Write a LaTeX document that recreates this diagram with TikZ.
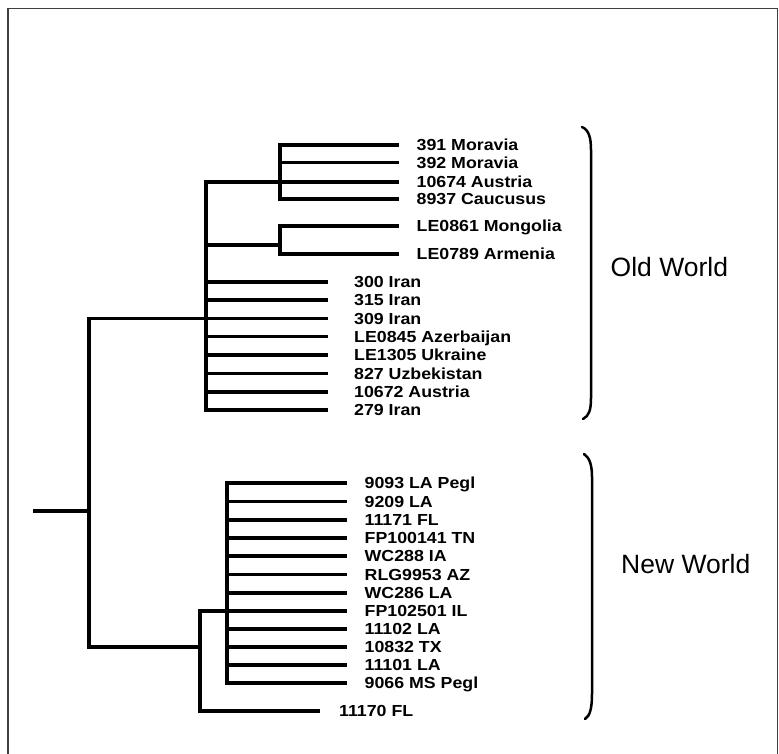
\documentclass[tikz,border=0pt]{standalone}
\usepackage{fontspec}
\setmainfont{Liberation Sans}
\newfontfamily\leaffont[FakeStretch=1.11]{Liberation Sans}
\tikzset{
  branch/.style={line width=3.2pt, line cap=rect},
  leaf/.style={anchor=west, font=\leaffont\bfseries\fontsize{16}{18}\selectfont,
               inner xsep=19.5pt, inner ysep=0pt, text height=11.5pt, text depth=0pt},
  ileaf/.style={leaf, inner xsep=28pt},
  group/.style={anchor=base west, font=\fontsize{26.5}{30}\selectfont, inner sep=0pt},
  brace/.style={line width=2.5pt, line cap=round},
  frame/.style={draw=black!75, line width=1.3pt},
}

\begin{document}
\begin{tikzpicture}[x=1pt, y=-1pt]
    \useasboundingbox (0,0) rectangle (779,754);
    \draw[frame] (8,8.5) rectangle (777.3,758);

    % old world leaves
    \node[leaf] (o1) at (397,145) {391 Moravia};
    \node[leaf] (o2) at (397,162.5) {392 Moravia};
    \node[leaf] (o3) at (397,182) {10674 Austria};
    \node[leaf] (o4) at (397,199) {8937 Caucusus};
    \node[leaf] (o5) at (397,226) {LE0861 Mongolia};
    \node[leaf] (o6) at (397,254) {LE0789 Armenia};
    \node[ileaf] (o7) at (326,282) {300 Iran};
    \node[ileaf] (o8) at (326,300) {315 Iran};
    \node[ileaf] (o9) at (326,318.5) {309 Iran};
    \node[ileaf] (o10) at (326,336.7) {LE0845 Azerbaijan};
    \node[ileaf] (o11) at (326,355) {LE1305 Ukraine};
    \node[ileaf] (o12) at (326,373.5) {827 Uzbekistan};
    \node[ileaf] (o13) at (326,392) {10672 Austria};
    \node[ileaf] (o14) at (326,410) {279 Iran};

    % new world leaves
    \node[leaf] (n1) at (345,483) {9093 LA Pegl};
    \node[leaf] (n2) at (345,501.5) {9209 LA};
    \node[leaf] (n3) at (345,520) {11171 FL};
    \node[leaf] (n4) at (345,538) {FP100141 TN};
    \node[leaf] (n5) at (345,556) {WC288 IA};
    \node[leaf] (n6) at (345,574.5) {RLG9953 AZ};
    \node[leaf] (n7) at (345,593) {WC286 LA};
    \node[leaf] (n8) at (345,611) {FP102501 IL};
    \node[leaf] (n9) at (345,629) {11102 LA};
    \node[leaf] (n10) at (345,647) {10832 TX};
    \node[leaf] (n11) at (345,665) {11101 LA};
    \node[leaf] (n12) at (345,683) {9066 MS Pegl};
    \node[leaf, inner xsep=21pt] (n13) at (318,711) {11170 FL};

    % joints
    \coordinate (root) at (35,511);
    \coordinate (rv) at (89,511);
    \coordinate (mv) at (280,182);
    \coordinate (gv) at (280,245);
    \coordinate (ov) at (206,182);
    \coordinate (nv) at (227,483);
    \coordinate (fv) at (200,611);

    % root
    \draw[branch] (root) -- (rv);
    \draw[branch] (o9 -| rv) -- (n10 -| rv);
    \draw[branch] (o9 -| rv) -- (o9);
    \draw[branch] (n10 -| rv) -- (n10 -| fv);

    % old world
    \draw[branch] (ov) -- (o14 -| ov);
    \draw[branch] (ov) -- (o3);
    \draw[branch] (o1 -| mv) -- (o4 -| mv);
    \draw[branch] (o1 -| mv) -- (o1);
    \draw[branch] (o2 -| mv) -- (o2);
    \draw[branch] (o4 -| mv) -- (o4);
    \draw[branch] (ov |- gv) -- (gv);
    \draw[branch] (o5 -| gv) -- (o6 -| gv);
    \draw[branch] (o5 -| gv) -- (o5);
    \draw[branch] (o6 -| gv) -- (o6);
    \draw[branch] (o7 -| ov) -- (o7);
    \draw[branch] (o8 -| ov) -- (o8);
    \draw[branch] (o10 -| ov) -- (o10);
    \draw[branch] (o11 -| ov) -- (o11);
    \draw[branch] (o12 -| ov) -- (o12);
    \draw[branch] (o13 -| ov) -- (o13);
    \draw[branch] (o14 -| ov) -- (o14);

    % new world
    \draw[branch] (fv) -- (n13 -| fv);
    \draw[branch] (fv) -- (n8);
    \draw[branch] (n13 -| fv) -- (n13);
    \draw[branch] (nv) -- (n12 -| nv);
    \draw[branch] (nv) -- (n1);
    \draw[branch] (n2 -| nv) -- (n2);
    \draw[branch] (n3 -| nv) -- (n3);
    \draw[branch] (n4 -| nv) -- (n4);
    \draw[branch] (n5 -| nv) -- (n5);
    \draw[branch] (n6 -| nv) -- (n6);
    \draw[branch] (n7 -| nv) -- (n7);
    \draw[branch] (n9 -| nv) -- (n9);
    \draw[branch] (n10 -| nv) -- (n10);
    \draw[branch] (n11 -| nv) -- (n11);
    \draw[branch] (n12 -| nv) -- (n12);

    % braces
    \draw[brace] (582,127) .. controls (589,130) and (591,138) .. (591,150) -- (591,398) .. controls (591,410) and (589,416) .. (583,419);
    \draw[brace] (584,454) .. controls (590,458) and (592,466) .. (592,477) -- (592,694) .. controls (592,708) and (590,716) .. (585,719);
    \node[group] (old) at (610.5,276.7) {Old World};
    \node[group] (new) at (621,573.3) {New World};
  \end{tikzpicture}
\end{document}
